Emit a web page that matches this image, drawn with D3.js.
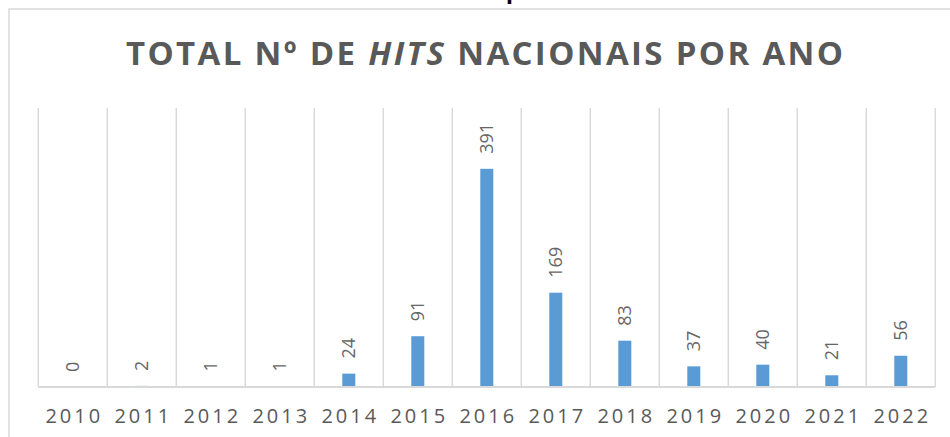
<!DOCTYPE html>
<html>
<head>
<meta charset="utf-8">
<script src="https://cdn.jsdelivr.net/npm/d3@7"></script>
<style>
  body { margin: 0; background: #fff; }
  svg { display: block; }
</style>
</head>
<body>
<div id="viz"></div>
<script>
// data
var years = ['2010', '2011', '2012', '2013', '2014', '2015', '2016',
             '2017', '2018', '2019', '2020', '2021', '2022'];
var hits = [0, 2, 1, 1, 24, 91, 391, 169, 83, 37, 40, 21, 56];
var yMax = 500;

var width = 950, height = 437;
var plot = {left: 38.3, right: 935.3, top: 108, bottom: 387};
var grey = '#595959';
var gridColor = '#d9d9d9';
var barColor = '#5b9bd5';

var svg = d3.select('#viz')
  .append('svg')
  .attr('width', width)
  .attr('height', height);

svg.append('rect')
  .attr('width', width)
  .attr('height', height)
  .style('fill', '#fff');

// bit of the text above the chart that peeks in at the top
svg.append('text')
  .attr('x', 506)
  .attr('y', 0)
  .style('font-family', 'DejaVu Sans')
  .style('font-weight', 'bold')
  .style('font-size', '20px')
  .style('fill', '#000')
  .text('p');

// chart frame, runs off the right and bottom edges
svg.append('rect')
  .attr('x', 9)
  .attr('y', 9)
  .attr('width', 980)
  .attr('height', 480)
  .style('fill', '#fff')
  .style('stroke', gridColor)
  .style('stroke-width', 1.5);

// SCALES
var xCat = d3.scaleBand()
  .domain(years)
  .range([plot.left, plot.right])
  .padding(0);

var xBar = d3.scaleBand()
  .domain(years)
  .range([plot.left, plot.right])
  .paddingInner(1 - 13 / 69)
  .paddingOuter((1 - 13 / 69) / 2);

var y = d3.scaleLinear()
  .domain([0, yMax])
  .range([plot.bottom, plot.top]);

// vertical gridlines between categories
var bounds = years.map(function(d) { return xCat(d); }).concat([plot.right]);
svg.append('g')
  .selectAll('line')
  .data(bounds)
  .enter()
  .append('line')
  .attr('x1', function(d) { return d; })
  .attr('x2', function(d) { return d; })
  .attr('y1', y(yMax))
  .attr('y2', y(0))
  .style('stroke', gridColor)
  .style('stroke-width', 1.5);

// bars
svg.append('g')
  .selectAll('rect')
  .data(hits)
  .enter()
  .append('rect')
  .attr('x', function(d, i) { return xBar(years[i]); })
  .attr('width', xBar.bandwidth())
  .attr('y', function(d) { return y(d); })
  .attr('height', function(d) { return y(0) - y(d); })
  .style('fill', barColor);

// baseline, drawn over the bars like excel does
svg.append('line')
  .attr('x1', plot.left)
  .attr('x2', plot.right)
  .attr('y1', y(0))
  .attr('y2', y(0))
  .style('stroke', gridColor)
  .style('stroke-width', 2);

// value labels, rotated, outside end
svg.append('g')
  .selectAll('text')
  .data(hits)
  .enter()
  .append('text')
  .attr('transform', function(d, i) {
    var cx = xCat(years[i]) + xCat.bandwidth() / 2;
    return 'translate(' + cx + ',' + (y(d) - 15) + ') rotate(-90)';
  })
  .attr('dy', '0.35em')
  .style('font-family', 'Open Sans')
  .style('font-size', '18px')
  .style('fill', '#666')
  .text(function(d) { return d; });

// year axis
var xAxis = d3.axisBottom(xCat).tickSize(0);
var axisG = svg.append('g')
  .attr('transform', 'translate(0,' + y(0) + ')')
  .call(xAxis);
axisG.select('.domain').remove();
axisG.selectAll('text')
  .attr('y', 36)
  .attr('dy', 0)
  .attr('dx', 1.5)
  .style('font-family', 'Open Sans')
  .style('font-size', '20px')
  .style('letter-spacing', '3px')
  .style('fill', grey);

// TITLE
var title = svg.append('text')
  .attr('x', 484.5)
  .attr('y', 65)
  .attr('text-anchor', 'middle')
  .attr('textLength', 717)
  .attr('lengthAdjust', 'spacing')
  .style('font-family', 'Open Sans')
  .style('font-weight', 'bold')
  .style('font-size', '33px')
  .style('fill', grey);
title.append('tspan').text('TOTAL Nº DE ');
title.append('tspan').style('font-style', 'italic').text('HITS');
title.append('tspan').text(' NACIONAIS POR ANO');
</script>
</body>
</html>
